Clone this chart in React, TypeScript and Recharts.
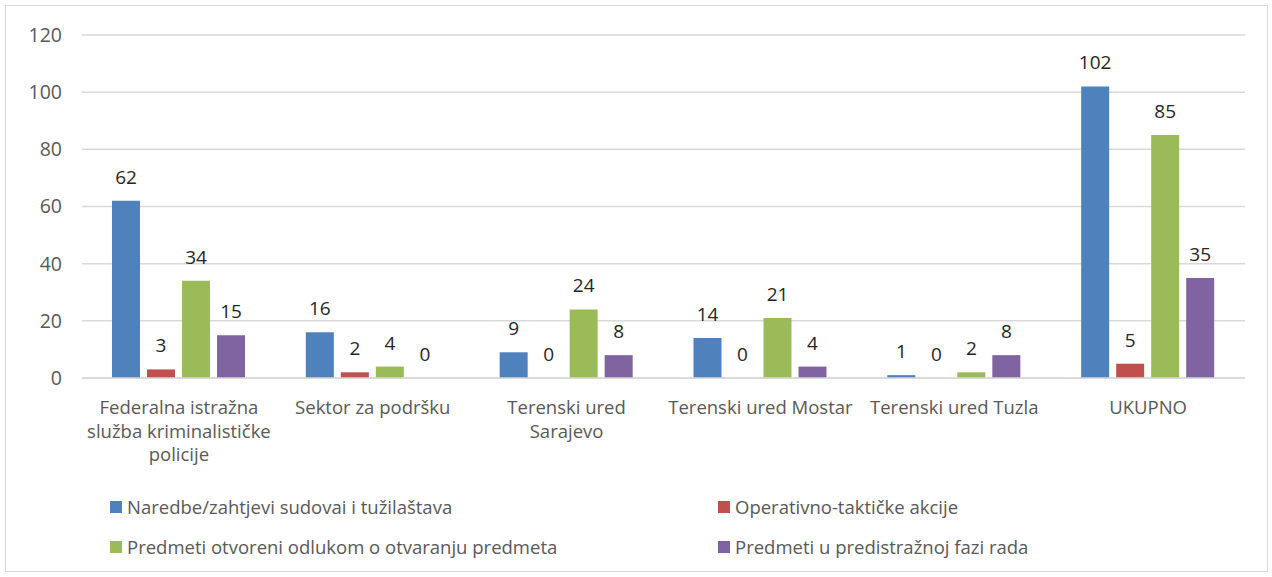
import React from 'react';
import { BarChart, Bar, XAxis, YAxis, CartesianGrid, LabelList } from 'recharts';

const categories = [
    'Federalna istražna služba kriminalističke policije',
    'Sektor za podršku',
    'Terenski ured Sarajevo',
    'Terenski ured Mostar',
    'Terenski ured Tuzla',
    'UKUPNO',
];

// how each category label wraps under the axis
const categoryLines = [
    ['Federalna istražna', 'služba kriminalističke', 'policije'],
    ['Sektor za podršku'],
    ['Terenski ured', 'Sarajevo'],
    ['Terenski ured Mostar'],
    ['Terenski ured Tuzla'],
    ['UKUPNO'],
];

const seriesNames = [
    'Naredbe/zahtjevi sudovai i tužilaštava',
    'Operativno-taktičke akcije',
    'Predmeti otvoreni odlukom o otvaranju predmeta',
    'Predmeti u predistražnoj fazi rada',
];
const seriesColors = ['#4F81BD', '#C0504D', '#9BBB59', '#8064A2'];

const naredbe = [62, 16, 9, 14, 1, 102];
const akcije = [3, 2, 0, 0, 0, 5];
const otvoreni = [34, 4, 24, 21, 2, 85];
const predistrazni = [15, 0, 8, 4, 8, 35];

const yTicks = [0, 20, 40, 60, 80, 100, 120];

const FONT = '"Open Sans", "Noto Sans", sans-serif';

const chartData = categories.map((name, i) => ({
    name,
    s0: naredbe[i],
    s1: akcije[i],
    s2: otvoreni[i],
    s3: predistrazni[i],
}));

const CategoryTick = (props: any) => {
    const { x, y, index } = props;
    const lines = categoryLines[index] || [];
    return (
        <g>
            {lines.map((line, i) => (
                <text
                    key={i}
                    x={x}
                    y={y + 28 + i * 23.5}
                    textAnchor="middle"
                    fill="#595959"
                    fontSize={18.5}
                    fontFamily={FONT}
                >
                    {line}
                </text>
            ))}
        </g>
    );
};

// drawn for every bar, also the zero ones
const ValueLabel = (props: any) => {
    const { x, y, width, height, value } = props;
    const top = Math.min(Number(y), Number(y) + Number(height || 0));
    return (
        <text
            x={Number(x) + Number(width) / 2}
            y={top - 17}
            textAnchor="middle"
            fill="#262626"
            fontSize={19}
            fontFamily={FONT}
        >
            {String(value)}
        </text>
    );
};

const App: React.FC = () => {
    const legendPos = [
        { left: 110, top: 496 },
        { left: 718, top: 496 },
        { left: 110, top: 536 },
        { left: 718, top: 536 },
    ];

    return (
        <div style={{ position: 'absolute', left: 0, top: 0, width: 1272, height: 577, background: '#fff' }}>
            <div
                style={{
                    position: 'absolute',
                    left: 5,
                    top: 5,
                    width: 1261,
                    height: 565,
                    border: '1px solid #d9d9d9',
                }}
            />
            <BarChart
                width={1272}
                height={577}
                data={chartData}
                margin={{ top: 35, right: 27, left: 22, bottom: 119 }}
                barCategoryGap={30}
                barGap={7}
            >
                <CartesianGrid vertical={false} stroke="#d9d9d9" strokeWidth={1.5} />
                <XAxis
                    dataKey="name"
                    height={80}
                    interval={0}
                    tickLine={false}
                    axisLine={{ stroke: '#d9d9d9', strokeWidth: 1.5 }}
                    tick={<CategoryTick />}
                />
                <YAxis
                    width={60}
                    domain={[0, 120]}
                    ticks={yTicks}
                    axisLine={false}
                    tickLine={false}
                    tickMargin={14}
                    tick={{ fill: '#595959', fontSize: 19.5, fontFamily: FONT }}
                />
                {['s0', 's1', 's2', 's3'].map((key, i) => (
                    <Bar
                        key={key}
                        dataKey={key}
                        fill={seriesColors[i]}
                        minPointSize={0.01}
                        isAnimationActive={false}
                    >
                        <LabelList dataKey={key} content={<ValueLabel />} />
                    </Bar>
                ))}
            </BarChart>
            {seriesNames.map((name, i) => (
                <div
                    key={name}
                    style={{
                        position: 'absolute',
                        left: legendPos[i].left,
                        top: legendPos[i].top,
                        display: 'flex',
                        alignItems: 'center',
                        fontFamily: FONT,
                        fontSize: 18.5,
                        lineHeight: '22px',
                        color: '#595959',
                        whiteSpace: 'nowrap',
                    }}
                >
                    <span
                        style={{
                            display: 'inline-block',
                            width: 12,
                            height: 12,
                            background: seriesColors[i],
                            marginRight: 5,
                        }}
                    />
                    {name}
                </div>
            ))}
        </div>
    );
};

export default App;
